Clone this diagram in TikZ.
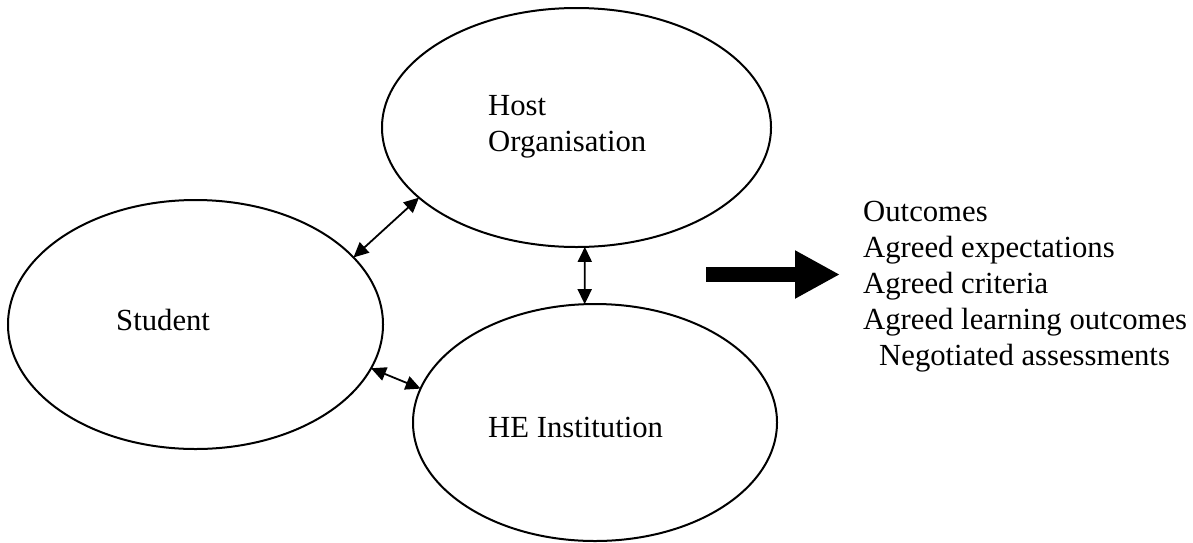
\documentclass[tikz,border=0pt]{standalone}
\usepackage{fontspec}
\setmainfont{Liberation Serif}
\usetikzlibrary{arrows.meta,shapes.geometric}

\begin{document}
\begin{tikzpicture}[x=1pt,y=-1pt,
  bubble/.style={draw,ellipse,line width=2pt,inner sep=0pt,outer sep=0pt},
  txt/.style={font=\fontsize{30.7}{35.8}\selectfont,inner sep=0pt,anchor=base west,align=left},
  link/.style={line width=1.8pt,{Triangle[length=15pt,width=14pt]}-{Triangle[length=15pt,width=14pt]}}]
\useasboundingbox (0,0) rectangle (1193,542);
\node[bubble,minimum width=389pt,minimum height=239pt] (host) at (576.5,127.5) {};
\node[bubble,minimum width=375pt,minimum height=249pt] (student) at (195.5,324.5) {};
\node[bubble,minimum width=364pt,minimum height=237pt] (he) at (595,422.5) {};
\node[txt] (hostlbl) at (488,151) {Host\\Organisation};
\node[txt] (studentlbl) at (116,330) {Student};
\node[txt] (helbl) at (488,437) {HE Institution};
\draw[link] (student.23.6) -- (host.204.25);
\draw[link] (host.-86.4) -- (he.95.3);
\draw[link] (student.-14.1) -- (he.169.7);
\node[txt] (outcomes) at (863,365) {Outcomes\\Agreed expectations\\Agreed criteria\\Agreed learning outcomes\\\hspace*{16pt}Negotiated assessments};
\coordinate (bigtail) at (706,274.5);
\coordinate (bighead) at (840,274.5);
\draw[line width=15pt,-{Triangle[length=45pt,width=45pt]}] (bigtail) -- (bighead);
\end{tikzpicture}
\end{document}
